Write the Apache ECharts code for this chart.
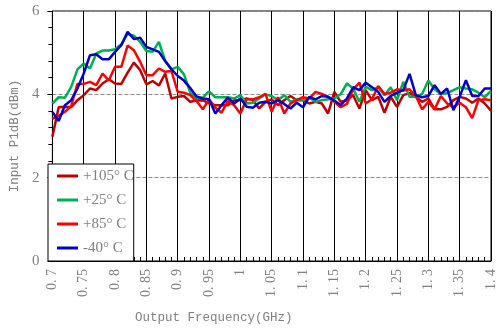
<!DOCTYPE html>
<html>
<head>
<meta charset="utf-8">
<script src="https://cdn.jsdelivr.net/npm/echarts@6/dist/echarts.min.js"></script>
<style>
  html, body { margin: 0; padding: 0; background: #fff; }
  #chart { width: 500px; height: 329px; }
</style>
</head>
<body>
<div id="chart"></div>
<script>
// Output frequency sample points (GHz)
const freq = [
  0.70, 0.71, 0.72, 0.73, 0.74, 0.75, 0.76, 0.77, 0.78, 0.79,
  0.80, 0.81, 0.82, 0.83, 0.84, 0.85, 0.86, 0.87, 0.88, 0.89,
  0.90, 0.91, 0.92, 0.93, 0.94, 0.95, 0.96, 0.97, 0.98, 0.99,
  1.00, 1.01, 1.02, 1.03, 1.04, 1.05, 1.06, 1.07, 1.08, 1.09,
  1.10, 1.11, 1.12, 1.13, 1.14, 1.15, 1.16, 1.17, 1.18, 1.19,
  1.20, 1.21, 1.22, 1.23, 1.24, 1.25, 1.26, 1.27, 1.28, 1.29,
  1.30, 1.31, 1.32, 1.33, 1.34, 1.35, 1.36, 1.37, 1.38, 1.39,
  1.40
];

// Input P1dB (dBm) per temperature
const p105 = [
  2.98, 3.69, 3.70, 3.69, 3.86, 3.98, 4.14, 4.10, 4.26, 4.36,
  4.26, 4.25, 4.52, 4.76, 4.58, 4.24, 4.32, 4.21, 4.50, 3.90,
  3.94, 3.96, 3.82, 3.85, 3.86, 3.78, 3.74, 3.74, 3.74, 3.86,
  3.86, 3.90, 3.86, 3.66, 3.82, 3.88, 3.74, 3.86, 3.96, 3.86,
  3.86, 3.78, 3.82, 3.78, 3.54, 4.06, 3.82, 3.85, 3.98, 3.66,
  4.10, 3.86, 3.94, 3.56, 3.94, 3.70, 3.98, 4.03, 3.94, 3.82,
  3.90, 3.64, 3.64, 3.70, 3.86, 3.94, 3.90, 3.80, 3.90, 3.78,
  3.61
];
const p25 = [
  3.78, 3.93, 3.92, 4.18, 4.60, 4.74, 4.62, 4.98, 5.05, 5.05,
  5.08, 5.20, 5.45, 5.41, 5.26, 5.04, 5.02, 5.26, 4.80, 4.60,
  4.66, 4.48, 4.04, 3.92, 3.92, 4.07, 3.93, 3.93, 3.93, 3.90,
  3.98, 3.78, 3.80, 3.90, 4.00, 3.96, 3.86, 3.98, 3.82, 3.88,
  3.86, 3.92, 3.82, 3.86, 3.88, 3.90, 4.00, 4.26, 4.14, 3.82,
  4.18, 4.10, 4.17, 3.98, 4.17, 3.86, 4.30, 3.94, 3.94, 4.01,
  4.33, 4.12, 4.01, 4.03, 4.10, 4.17, 4.14, 4.12, 4.04, 3.93,
  4.08
];
const p85 = [
  3.42, 3.48, 3.58, 3.72, 4.25, 4.25, 4.30, 4.22, 4.50, 4.33,
  4.66, 4.66, 5.17, 5.06, 4.78, 4.46, 4.46, 4.62, 4.54, 4.56,
  4.06, 4.04, 3.98, 3.84, 3.64, 3.88, 3.68, 3.56, 3.84, 3.74,
  3.54, 3.88, 3.88, 3.93, 4.01, 3.58, 3.93, 3.54, 3.78, 3.86,
  3.93, 3.90, 4.06, 4.01, 3.94, 3.82, 3.69, 3.77, 4.12, 4.28,
  3.78, 3.88, 4.20, 4.01, 4.04, 4.12, 4.09, 4.12, 3.96, 3.64,
  3.82, 3.64, 3.96, 3.78, 3.69, 3.80, 3.69, 3.43, 3.86, 3.88,
  3.86
];
const pm40 = [
  3.58, 3.36, 3.74, 3.86, 4.14, 4.50, 4.94, 4.96, 4.84, 4.84,
  5.02, 5.18, 5.50, 5.33, 5.36, 5.14, 5.08, 5.02, 4.80, 4.60,
  4.44, 4.33, 4.15, 3.95, 3.90, 3.88, 3.54, 3.74, 3.92, 3.78,
  3.90, 3.70, 3.68, 3.80, 3.82, 3.78, 3.86, 3.77, 3.66, 3.80,
  3.69, 3.94, 3.88, 3.96, 3.94, 3.85, 3.74, 3.90, 4.17, 4.10,
  4.28, 4.17, 4.06, 3.82, 3.96, 4.04, 4.10, 4.49, 3.98, 3.93,
  3.96, 4.22, 4.01, 4.14, 3.62, 3.94, 4.34, 3.96, 3.96, 4.14,
  4.14
];

const seriesNames = ['+105° C', '+25° C', '+85° C', '-40° C'];
const seriesColors = ['#c00000', '#00b050', '#ff0000', '#0000cc'];
const seriesValues = [p105, p25, p85, pm40];

const textGray = '#808080';
const gridGray = '#8c8c8c';
const serif = '"Liberation Serif", "DejaVu Serif", serif';
const mono = '"Liberation Mono", "DejaVu Sans Mono", monospace';

const chart = echarts.init(document.getElementById('chart'), null, { renderer: 'canvas' });

chart.setOption({
  animation: false,
  backgroundColor: '#fff',
  grid: {
    left: 48, right: 9, top: 11, bottom: 68,
    show: true, borderColor: '#000', borderWidth: 1, backgroundColor: 'rgba(0,0,0,0)'
  },
  legend: {
    orient: 'vertical',
    left: 48, top: 164,
    z: 10,
    padding: [4, 0, 5, 9],
    itemGap: 8,
    itemWidth: 21, itemHeight: 3,
    icon: 'rect',
    backgroundColor: '#fff',
    borderColor: '#000', borderWidth: 1,
    textStyle: { color: textGray, fontFamily: serif, fontSize: 15, lineHeight: 16 },
    data: seriesNames
  },
  xAxis: {
    type: 'value',
    min: 0.7, max: 1.4, interval: 0.05,
    name: 'Output Frequency(GHz)',
    nameLocation: 'middle',
    nameGap: 50,
    nameTextStyle: { color: textGray, fontFamily: mono, fontSize: 12.5, padding: [0, 116, 0, 0] },
    axisLine: { show: true, lineStyle: { color: '#000', width: 1 } },
    axisTick: { show: true, inside: true, length: 4, lineStyle: { color: '#000' } },
    minorTick: { show: true, splitNumber: 5, length: 4, lineStyle: { color: '#000' } },
    axisLabel: {
      rotate: 90, margin: 8,
      color: textGray, fontFamily: serif, fontSize: 14,
      formatter: v => String(Math.round(v * 100) / 100).replace('.', '. ')
    },
    splitLine: {
      show: true,
      lineStyle: { color: '#000000', type: 'solid', width: 1 }
    }
  },
  yAxis: {
    type: 'value',
    min: 0, max: 6, interval: 2,
    name: 'Input P1dB(dBm)',
    nameLocation: 'middle',
    nameGap: 26,
    nameTextStyle: { color: textGray, fontFamily: mono, fontSize: 12.5 },
    axisLine: { show: true, lineStyle: { color: '#000', width: 1 } },
    axisTick: { show: true, length: 5, lineStyle: { color: '#000' } },
    minorTick: { show: true, splitNumber: 5, length: 4, lineStyle: { color: '#000' } },
    axisLabel: { color: textGray, fontFamily: serif, fontSize: 15, margin: 13 },
    splitLine: {
      show: true,
      lineStyle: { color: gridGray, type: 'dashed', width: 1 }
    }
  },
  series: seriesNames.map((name, i) => ({
    name: name,
    type: 'line',
    data: freq.map((f, k) => [f, seriesValues[i][k]]),
    symbol: 'none',
    color: seriesColors[i],
    lineStyle: { width: 2.5, color: seriesColors[i] },
    z: 3 + i
  }))
});
</script>
</body>
</html>
